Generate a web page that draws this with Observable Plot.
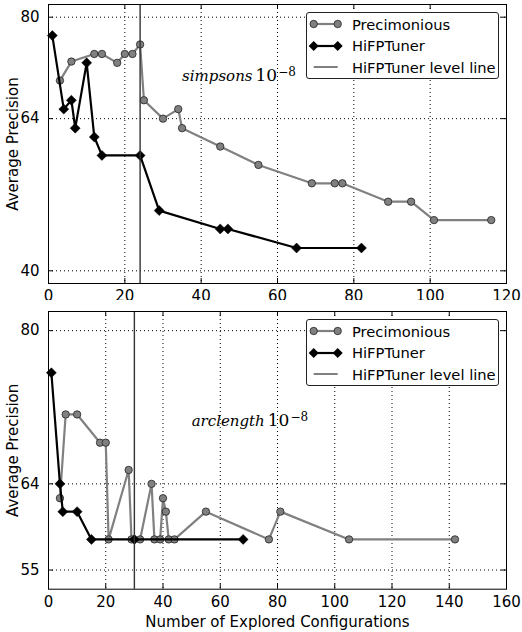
<!DOCTYPE html>
<html><head><meta charset="utf-8">
<script src="https://cdn.jsdelivr.net/npm/d3@7"></script>
<script src="https://cdn.jsdelivr.net/npm/@observablehq/plot@0.6"></script>
<style>
body{margin:0;background:#fff;}
#wrap{position:relative;width:522px;height:632px;font-family:"DejaVu Sans",sans-serif;overflow:hidden;}
.panel{position:absolute;left:0;}
.legend{position:absolute;background:#fff;border:1px solid #222;border-radius:3px;box-sizing:border-box;font-size:14.7px;color:#000;}
.legend .row{position:absolute;left:0;height:20px;display:flex;align-items:center;white-space:nowrap;}
.legend svg{display:block;}
</style></head>
<body><div id="wrap"></div>
<script>
// ---- data ----
const seriesNames = ["Precimonious", "HiFPTuner", "HiFPTuner level line"];

const topPrecX = [3, 6, 12, 14, 18, 20, 22, 24, 25, 30, 34, 35, 45, 55, 69, 75, 77, 89, 95, 101, 116];
const topPrecY = [70, 73, 74.2, 74.2, 72.8, 74.2, 74.2, 75.7, 66.9, 64, 65.5, 62.5, 59.6, 56.7, 53.8, 53.8, 53.8, 50.9, 50.9, 48, 48];
const topHiX = [1, 4, 6, 7, 10, 12, 14, 24, 29, 45, 47, 65, 82];
const topHiY = [77.1, 65.5, 66.9, 62.5, 72.8, 61.1, 58.2, 58.2, 49.5, 46.6, 46.6, 43.6, 43.6];
const topLevel = [24];
const topXTicks = [0, 20, 40, 60, 80, 100, 120];
const topYTicks = [40, 64, 80];
const topAnnot = [{x: 35, y: 70, name: "simpsons", exp: "10", sup: "\u22128"}];

const botPrecX = [4, 6, 10, 18, 20, 21, 28, 29, 32, 36, 37, 39, 40, 41, 42, 44, 55, 77, 81, 105, 142];
const botPrecY = [62.5, 71.25, 71.25, 68.3, 68.3, 58.2, 65.45, 58.2, 58.2, 64, 58.2, 58.2, 62.5, 61.1, 58.2, 58.2, 61.1, 58.2, 61.1, 58.2, 58.2];
const botHiX = [1, 4, 5, 10, 15, 30, 68];
const botHiY = [75.6, 64, 61.1, 61.1, 58.2, 58.2, 58.2];
const botLevel = [30];
const botXTicks = [0, 20, 40, 60, 80, 100, 120, 140, 160];
const botYTicks = [55, 64, 80];
const botAnnot = [{x: 50, y: 70, name: "arclength", exp: "10", sup: "\u22128"}];

const yLabel = "Average Precision";
const xLabel = "Number of Explored Configurations";

// ---- drawing ----
const W = 522, ML = 48, MR = 16;
const DIAMOND_R = 4.5, CIRCLE_R = 3.7;
const wrap = document.getElementById("wrap");

function panel(o) {
  const prec = o.precX.map((x, i) => ({x, y: o.precY[i]}));
  const hi = o.hiX.map((x, i) => ({x, y: o.hiY[i]}));
  const innerH = o.height - o.marginTop - o.marginBottom;
  const innerW = W - ML - MR;
  const gx = o.xTicks.filter(t => t > o.xDomain[0] && t < o.xDomain[1]);
  const gy = o.yTicks.filter(t => t > o.yDomain[0] && t < o.yDomain[1]);
  const tick = 5;
  const svg = Plot.plot({
    width: W, height: o.height,
    marginLeft: ML, marginRight: MR, marginTop: o.marginTop, marginBottom: o.marginBottom,
    x: {domain: o.xDomain},
    y: {domain: o.yDomain},
    style: {fontFamily: "DejaVu Sans, sans-serif", fontSize: "15px", color: "#000", background: "#fff", overflow: "visible"},
    marks: [
      Plot.ruleX(gx, {stroke: "#000", strokeWidth: 1, strokeDasharray: "1,3"}),
      Plot.ruleY(gy, {stroke: "#000", strokeWidth: 1, strokeDasharray: "1,3"}),
      Plot.ruleX(o.xTicks, {stroke: "#000", insetTop: innerH - tick}),
      Plot.ruleX(o.xTicks, {stroke: "#000", insetBottom: innerH - tick}),
      Plot.ruleY(o.yTicks, {stroke: "#000", insetRight: innerW - tick}),
      Plot.ruleY(o.yTicks, {stroke: "#000", insetLeft: innerW - tick}),
      Plot.axisX({ticks: o.xTicks, tickSize: 0, tickPadding: 7, tickFormat: d => String(d),
        label: o.xLabel ?? null, labelAnchor: "center", labelArrow: "none", labelOffset: 38, fontSize: 15}),
      Plot.axisY({ticks: o.yTicks, tickSize: 0, tickPadding: 9, tickFormat: d => String(d),
        label: yLabel, labelAnchor: "center", labelArrow: "none", labelOffset: 41, fontSize: 15}),
      Plot.line(prec, {x: "x", y: "y", stroke: "#808080", strokeWidth: 2.2}),
      Plot.dot(prec, {x: "x", y: "y", r: CIRCLE_R, fill: "#808080", stroke: "#222", strokeWidth: 0.8}),
      Plot.line(hi, {x: "x", y: "y", stroke: "#000", strokeWidth: 2.2}),
      Plot.dot(hi, {x: "x", y: "y", r: DIAMOND_R, symbol: "diamond2", fill: "#000", stroke: "#000", strokeWidth: 0.5}),
      Plot.ruleX(o.level, {stroke: "#333", strokeWidth: 1.4}),
      Plot.text(o.annot, {x: "x", y: "y", text: "name", textAnchor: "start", lineAnchor: "bottom",
        fontFamily: "DejaVu Serif, serif", fontSize: 15, fill: "#000"}),
      Plot.frame({stroke: "#000", strokeWidth: 1})
    ]
  });
  // add math-style exponent to annotation
  const NS = "http://www.w3.org/2000/svg";
  o.annot.forEach(a => {
    const t = Array.from(svg.querySelectorAll("text")).find(el => el.textContent.trim() === a.name);
    if (!t) return;
    while (t.firstChild) t.removeChild(t.firstChild);
    const s1 = document.createElementNS(NS, "tspan");
    s1.setAttribute("font-style", "italic"); s1.textContent = a.name;
    const s2 = document.createElementNS(NS, "tspan");
    s2.setAttribute("dx", "3"); s2.setAttribute("font-size", "17"); s2.textContent = a.exp;
    const s3 = document.createElementNS(NS, "tspan");
    s3.setAttribute("font-size", "12"); s3.setAttribute("dy", "-5"); s3.setAttribute("dx", "1"); s3.textContent = a.sup;
    t.append(s1, s2, s3);
  });
  svg.classList.add("panel");
  svg.style.top = o.top + "px";
  wrap.appendChild(svg);

  // legend
  const lg = document.createElement("div");
  lg.className = "legend";
  lg.style.left = "306px"; lg.style.top = o.legendTop + "px";
  lg.style.width = "193px"; lg.style.height = "67px";
  const rowsY = [11, 32.7, 54.3];
  seriesNames.forEach((name, i) => {
    const row = document.createElement("div");
    row.className = "row";
    row.style.top = (rowsY[i] - 10) + "px";
    const sw = d3.create("svg").attr("width", 45).attr("height", 20);
    const x1 = 6.7, x2 = 30.7, cy = 10;
    if (i === 0) {
      sw.append("line").attr("x1", x1).attr("x2", x2).attr("y1", cy).attr("y2", cy).attr("stroke", "#808080").attr("stroke-width", 2.2);
      [x1, x2].forEach(cx => sw.append("circle").attr("cx", cx).attr("cy", cy).attr("r", CIRCLE_R).attr("fill", "#808080").attr("stroke", "#222").attr("stroke-width", 0.8));
    } else if (i === 1) {
      sw.append("line").attr("x1", x1).attr("x2", x2).attr("y1", cy).attr("y2", cy).attr("stroke", "#000").attr("stroke-width", 2.2);
      [x1, x2].forEach(cx => sw.append("path").attr("d", d3.symbol(d3.symbolDiamond2, Math.PI * DIAMOND_R * DIAMOND_R)()).attr("transform", `translate(${cx},${cy})`).attr("fill", "#000"));
    } else {
      sw.append("line").attr("x1", x1).attr("x2", x2).attr("y1", cy).attr("y2", cy).attr("stroke", "#000").attr("stroke-width", 1);
    }
    row.appendChild(sw.node());
    const tx = document.createElement("span");
    tx.textContent = name;
    row.appendChild(tx);
    lg.appendChild(row);
  });
  wrap.appendChild(lg);
}

panel({precX: topPrecX, precY: topPrecY, hiX: topHiX, hiY: topHiY, level: topLevel,
  xDomain: [0, 120], yDomain: [38, 82], xTicks: topXTicks, yTicks: topYTicks, annot: topAnnot,
  height: 300, marginTop: 4, marginBottom: 17, top: 0, legendTop: 12});
panel({precX: botPrecX, precY: botPrecY, hiX: botHiX, hiY: botHiY, level: botLevel,
  xDomain: [0, 160], yDomain: [53, 82], xTicks: botXTicks, yTicks: botYTicks, annot: botAnnot,
  height: 332, marginTop: 11, marginBottom: 43.3, top: 300, legendTop: 319, xLabel: xLabel});
</script>
</body></html>
